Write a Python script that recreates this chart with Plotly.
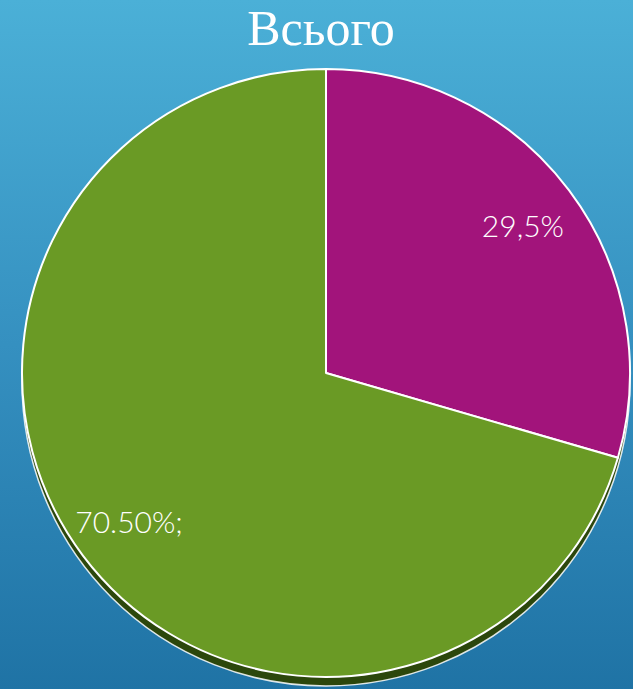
import plotly.graph_objects as go

categories = ["Категорія A", "Категорія B"]
values = [29.5, 70.5]
labels_text = ["29,5%", "70.50%;"]
slice_colors = ["#a2147b", "#6a9a25"]
title_text = "Всього"

W, H = 633, 689
cx, cy, r = 326, 373, 304
shadow_dy = 9

def dom(cx, cy, r):
    return dict(x=[(cx - r) / W, (cx + r) / W], y=[(H - cy - r) / H, (H - cy + r) / H])

fig = go.Figure()

# gradient background
fig.add_trace(go.Scatter(
    x=[0, 1, 1, 0, 0], y=[0, 0, 1, 1, 0], mode="none", fill="toself",
    fillgradient=dict(type="vertical", colorscale=[[0, "#1f73a5"], [0.5, "#3590c0"], [1, "#4bb0d7"]]),
    hoverinfo="skip", showlegend=False))

# 3D edge / shadow
fig.add_trace(go.Pie(
    values=[sum(values)], labels=["всього"], sort=False,
    marker=dict(colors=["#2c470c"], line=dict(color="rgba(255,255,255,0.85)", width=1.5)),
    textinfo="none", hoverinfo="skip", showlegend=False,
    domain=dom(cx, cy + shadow_dy, r)))

# main pie
fig.add_trace(go.Pie(
    values=values, labels=categories, sort=False, direction="clockwise", rotation=0,
    marker=dict(colors=slice_colors, line=dict(color="white", width=2)),
    textinfo="none", showlegend=False,
    domain=dom(cx, cy, r)))

# label ring (transparent) to place labels at ~0.8 r
fig.add_trace(go.Pie(
    values=values, labels=categories, sort=False, direction="clockwise", rotation=0,
    hole=0.62,
    marker=dict(colors=["rgba(0,0,0,0)"] * len(values), line=dict(width=0)),
    text=labels_text, textinfo="text", textposition="inside",
    insidetextorientation="horizontal",
    textfont=dict(family="Lato", size=30, color="white", weight=300),
    hoverinfo="skip", showlegend=False,
    domain=dom(cx, cy, r)))

fig.update_layout(
    width=W, height=H,
    margin=dict(l=0, r=0, t=0, b=0),
    paper_bgcolor="#3590c0", plot_bgcolor="rgba(0,0,0,0)",
    xaxis=dict(visible=False, range=[0, 1], domain=[0, 1], fixedrange=True),
    yaxis=dict(visible=False, range=[0, 1], domain=[0, 1], fixedrange=True),
    title=dict(text=title_text, x=0.507, xanchor="center", y=0.985, yanchor="top",
               font=dict(family="Liberation Serif", size=50, color="white")),
    uniformtext=dict(minsize=30, mode="show"),
)

fig.write_html("out.html", config={"displayModeBar": False},
               post_script="document.body.style.margin='0';document.body.style.overflow='hidden';")
